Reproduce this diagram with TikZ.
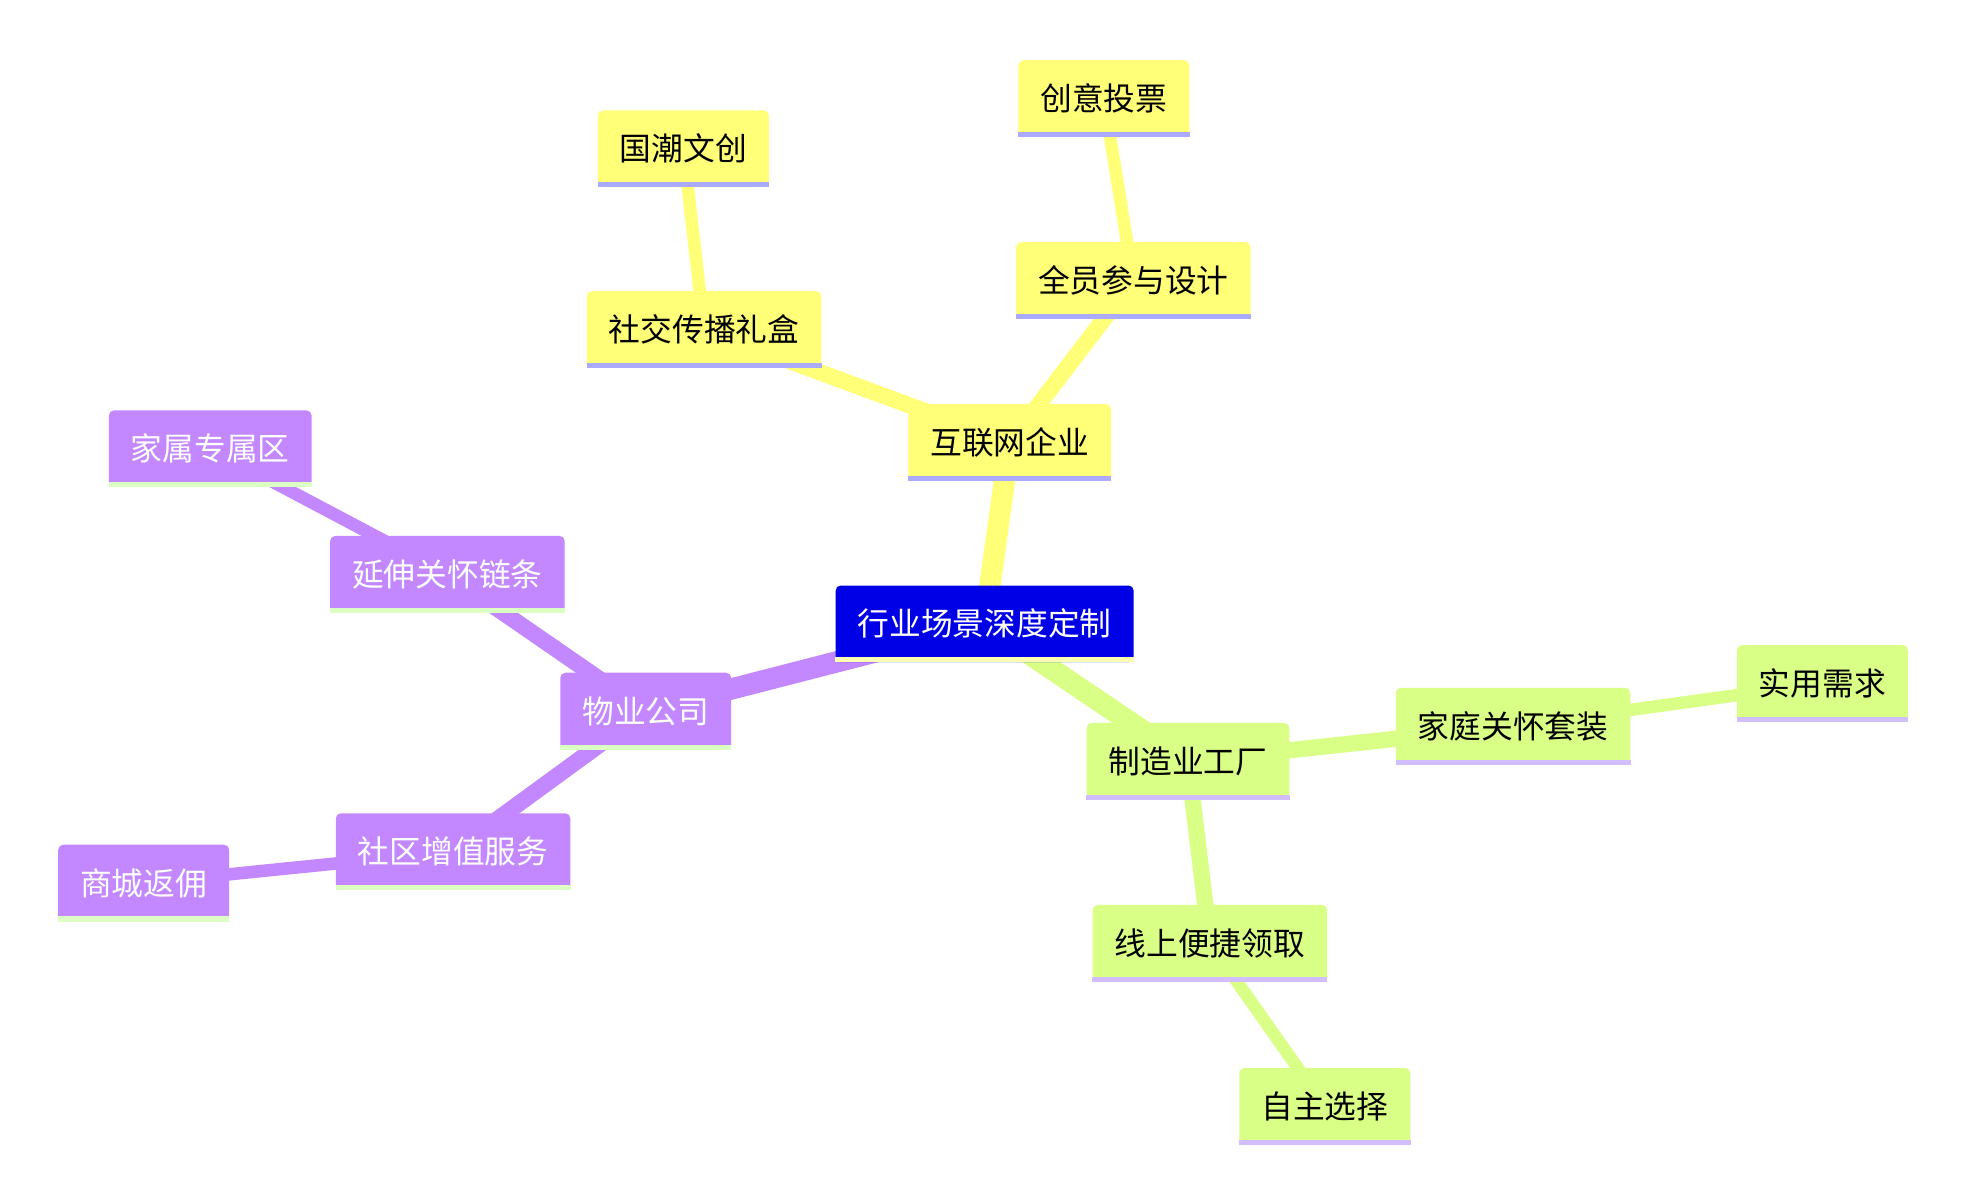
\documentclass[tikz,border=0pt]{standalone}
\usepackage{fontspec}
\setmainfont{Noto Sans CJK SC}
\usetikzlibrary{backgrounds}
\definecolor{rootfill}{RGB}{0,0,230}
\definecolor{rootline}{RGB}{255,255,180}
\definecolor{yfill}{RGB}{255,255,120}
\definecolor{yline}{RGB}{170,170,255}
\definecolor{pfill}{RGB}{195,136,255}
\definecolor{pline}{RGB}{220,255,195}
\definecolor{gfill}{RGB}{217,255,135}
\definecolor{gline}{RGB}{210,190,255}

\tikzset{
  mm/.style={rounded corners=4pt, minimum height=61pt, inner xsep=17.5pt, inner ysep=0pt,
    font=\fontsize{25.3}{30}\selectfont},
  mmroot/.style={mm, fill=rootfill, text=white},
  mmy/.style={mm, fill=yfill},
  mmp/.style={mm, fill=pfill, text=white},
  mmg/.style={mm, fill=gfill},
}

\begin{document}
\begin{tikzpicture}[x=1pt, y=-1pt]
			\useasboundingbox (0,0) rectangle (1568,958.6);

			\node[mmroot] (root) at (784.5,497) {行业场景深度定制};

			\node[mmy] (it) at (804.5,352.5) {互联网企业};
			\node[mmy] (gift) at (561,262.5) {社交传播礼盒};
			\node[mmy] (guochao) at (544.5,118.5) {国潮文创};
			\node[mmy] (design) at (903,223.5) {全员参与设计};
			\node[mmy] (vote) at (879.5,78.5) {创意投票};

			\node[mmp] (prop) at (514.5,566.5) {物业公司};
			\node[mmp] (care) at (356.5,457.5) {延伸关怀链条};
			\node[mmp] (family) at (167.5,357.5) {家属专属区};
			\node[mmp] (serv) at (361,678.5) {社区增值服务};
			\node[mmp] (mall) at (114.5,703.5) {商城返佣};

			\node[mmg] (fact) at (946.5,606.5) {制造业工厂};
			\node[mmg] (kit) at (1205.5,578.5) {家庭关怀套装};
			\node[mmg] (need) at (1452,544.5) {实用需求};
			\node[mmg] (online) at (964,751.5) {线上便捷领取};
			\node[mmg] (choose) at (1055.5,881.5) {自主选择};

			% bottom stripes
			\foreach \n/\c in {root/rootline, it/yline, gift/yline, guochao/yline, design/yline, vote/yline,
				prop/pline, care/pline, family/pline, serv/pline, mall/pline,
				fact/gline, kit/gline, need/gline, online/gline, choose/gline}
				\fill[\c] (\n.south west) rectangle ([yshift=4pt]\n.south east);

			\begin{scope}[on background layer]
			\path[yfill, line width=17pt]
			(root.center) edge (it.center);
			\path[yfill, line width=13pt]
			(it.center) edge (gift.center)
			(it.center) edge (design.center);
			\path[yfill, line width=10pt]
			(gift.center) edge (guochao.center)
			(design.center) edge (vote.center);

			\path[pfill, line width=17pt]
			(root.center) edge (prop.center);
			\path[pfill, line width=13pt]
			(prop.center) edge (care.center)
			(prop.center) edge (serv.center);
			\path[pfill, line width=10pt]
			(care.center) edge (family.center)
			(serv.center) edge (mall.center);

			\path[gfill, line width=17pt]
			(root.center) edge (fact.center);
			\path[gfill, line width=13pt]
			(fact.center) edge (kit.center)
			(fact.center) edge (online.center);
			\path[gfill, line width=10pt]
			(kit.center) edge (need.center)
			(online.center) edge (choose.center);
			\end{scope}
		\end{tikzpicture}
\end{document}
